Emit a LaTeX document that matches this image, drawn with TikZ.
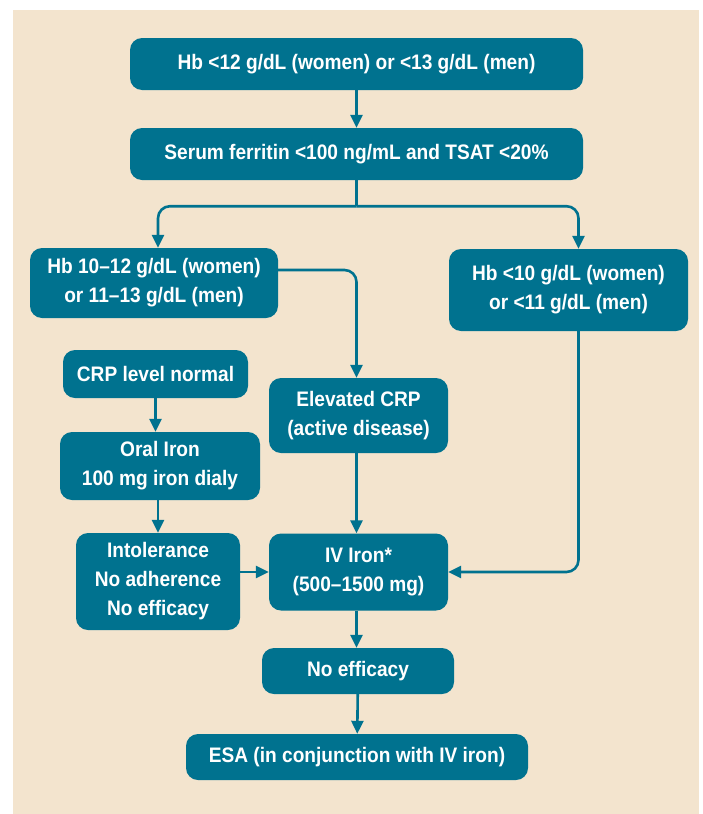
\documentclass[tikz,border=0pt]{standalone}
\usepackage{fontspec}
\setmainfont{Liberation Sans}[FakeStretch=0.91]
\usepackage{tikz}
\usetikzlibrary{arrows.meta,positioning,calc}
\definecolor{AQTeal}{HTML}{00728F}
\definecolor{AQCream}{HTML}{F3E4CE}
\begin{document}
\begin{tikzpicture}[x=1pt,y=-1pt,>={Triangle[length=13pt,width=12pt]}]
\tikzset{abox/.style={fill=AQTeal,text=white,rounded corners=12pt,align=center,inner sep=2pt,font=\fontsize{21}{29}\selectfont\bfseries},aflow/.style={->,draw=AQTeal,line width=2.6pt,rounded corners=12pt}}
\useasboundingbox (0,0) rectangle (703,814);
\fill[AQCream] (13,10) rectangle (699,814);
\node[abox,minimum width=453pt,minimum height=52pt] (hbtop) at (356.5,64) {Hb <12 g/dL (women) or <13 g/dL (men)};
\node[abox,minimum width=453pt,minimum height=52pt] (ferr) at (356.5,154) {Serum ferritin <100 ng/mL and TSAT <20\%};
\node[abox,minimum width=248pt,minimum height=70pt] (hbmid) at (154,283) {Hb 10–12 g/dL (women)\\or 11–13 g/dL (men)};
\node[abox,minimum width=239pt,minimum height=82pt] (hblow) at (568.5,290) {Hb <10 g/dL (women)\\or <11 g/dL (men)};
\node[abox,minimum width=185pt,minimum height=48pt] (crpn) at (155.5,374) {CRP level normal};
\node[abox,minimum width=179pt,minimum height=75pt] (crpe) at (358.5,415.5) {Elevated CRP\\(active disease)};
\node[abox,minimum width=200pt,minimum height=68pt] (oral) at (160,466) {Oral Iron\\100 mg iron dialy};
\node[abox,minimum width=164pt,minimum height=97pt] (intol) at (158,581.5) {Intolerance\\No adherence\\No efficacy};
\node[abox,minimum width=179pt,minimum height=77pt] (iviron) at (358.5,572) {IV Iron*\\(500–1500 mg)};
\node[abox,minimum width=192pt,minimum height=46pt] (noeff) at (358,671) {No efficacy};
\node[abox,minimum width=342pt,minimum height=46pt] (esa) at (357,757) {ESA (in conjunction with IV iron)};
\coordinate (split) at ($(ferr.south)+(0,26)$);
\draw[aflow] (hbtop) -- (ferr);
\draw[draw=AQTeal,line width=2.6pt] (ferr.south) -- (split);
\draw[aflow] (split) -| ([xshift=4pt]hbmid.north);
\draw[aflow] (split) -| ([xshift=10pt]hblow.north);
\draw[aflow] ([yshift=13pt]hbmid.east) -| ([xshift=-2pt]crpe.north);
\draw[aflow] ([xshift=10pt]hblow.south) |- (iviron.east);
\draw[aflow] (crpn.south) -- (crpn.south |- oral.north);
\draw[aflow] ([xshift=-2pt]oral.south) -- ([xshift=-2pt]oral.south |- intol.north);
\draw[aflow] (intol.east |- iviron.west) -- (iviron.west);
\draw[aflow] ([xshift=-2pt]crpe.south) -- ([xshift=-2pt]crpe.south |- iviron.north);
\draw[aflow] ([xshift=-2pt]iviron.south) -- ([xshift=-2pt]iviron.south |- noeff.north);
\draw[aflow] (noeff) -- (esa);
\end{tikzpicture}
\end{document}
